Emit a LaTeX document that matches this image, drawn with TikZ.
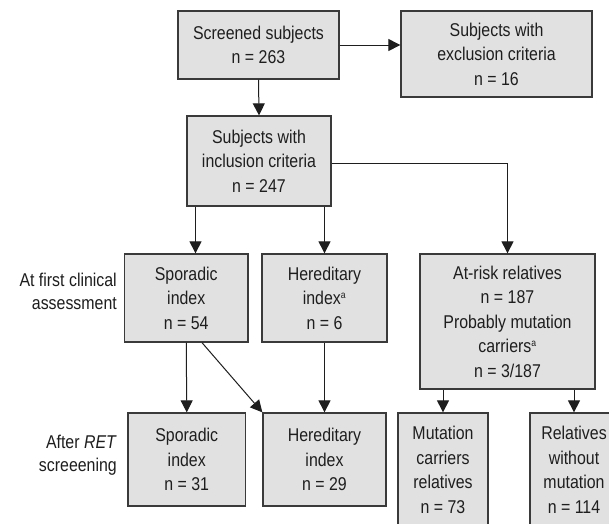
\documentclass[tikz,border=0pt]{standalone}
\usepackage{fontspec}
\setmainfont{Liberation Sans}[FakeStretch=0.86]
\usetikzlibrary{arrows.meta}
\definecolor{boxfill}{HTML}{E1E1E1}
\definecolor{boxline}{HTML}{3A3A3A}
\definecolor{txt}{HTML}{1E1E1E}
\tikzset{
  box/.style={draw=boxline, fill=boxfill, line width=1.3pt, inner sep=0pt,
    align=center, text=txt, font=\fontsize{18.5}{24.5}\selectfont},
  arr/.style={draw=txt, line width=1pt, -{Triangle[width=12pt,length=12pt]}},
  lbl/.style={align=right, anchor=east, text=txt, font=\fontsize{18.5}{23.5}\selectfont, inner sep=0pt}
}
\newcommand{\sa}{\textsuperscript{\fontsize{10}{10}\selectfont a}}
\begin{document}
\begin{tikzpicture}[x=1pt,y=-1pt]
\useasboundingbox (0,0) rectangle (609,523);
\fill[white] (0,0) rectangle (609,523);
% row 1
\node[box, minimum width=161pt, minimum height=68pt] (scr) at (258.5,45) {Screened subjects\\n = 263};
\node[box, minimum width=191pt, minimum height=86pt] (exc) at (496.5,54) {Subjects with\\exclusion criteria\\n = 16};
% row 2
\node[box, minimum width=144pt, minimum height=90pt] (inc) at (259,161) {Subjects with\\inclusion criteria\\n = 247};
% row 3
\node[box, minimum width=123.5pt, minimum height=88pt] (spo) at (186.25,298) {Sporadic\\index\\n = 54};
\node[box, minimum width=125pt, minimum height=88pt] (her) at (324.5,298) {Hereditary\\index\sa\\n = 6};
\node[box, minimum width=175pt, minimum height=135pt] (atr) at (507.5,321.5) {At-risk relatives\\n = 187\\Probably mutation\\carriers\sa\\n = 3/187};
% row 4
\node[box, minimum width=117.5pt, minimum height=93pt] (spo2) at (186.75,459.5) {Sporadic\\index\\n = 31};
\node[box, minimum width=123pt, minimum height=93pt] (her2) at (324.5,459.5) {Hereditary\\index\\n = 29};
\node[box, minimum width=90pt, minimum height=114pt] (mut) at (443,470) {Mutation\\carriers\\relatives\\n = 73};
\node[box, minimum width=88pt, minimum height=114pt] (rel) at (574,470) {Relatives\\without\\mutation\\n = 114};
% side labels
\node[lbl] (l1) at (117,291.5) {At first clinical\\assessment};
\node[lbl] (l2) at (117,455) {After \textit{RET}\\screeening};
% connectors
\coordinate (c1) at (195.5,0);
\coordinate (c2) at (202,0);
\draw[arr] (scr.east) -- (scr.east -| exc.west);
\draw[arr] (scr.south) -- (inc.north);
\draw[arr] ([yshift=-2pt]inc.east) -| (atr.north);
\draw[arr] (inc.south -| c1) -- (spo.north -| c1);
\draw[arr] (inc.south -| her.north) -- (her.north);
\draw[arr] (spo.south) -- (spo2.north);
\draw[arr] (spo.south -| c2) -- (her2.north west);
\draw[arr] (her.south) -- (her2.north);
\draw[arr] (atr.south -| mut.north) -- (mut.north);
\draw[arr] (atr.south -| rel.north) -- (rel.north);
\end{tikzpicture}
\end{document}
